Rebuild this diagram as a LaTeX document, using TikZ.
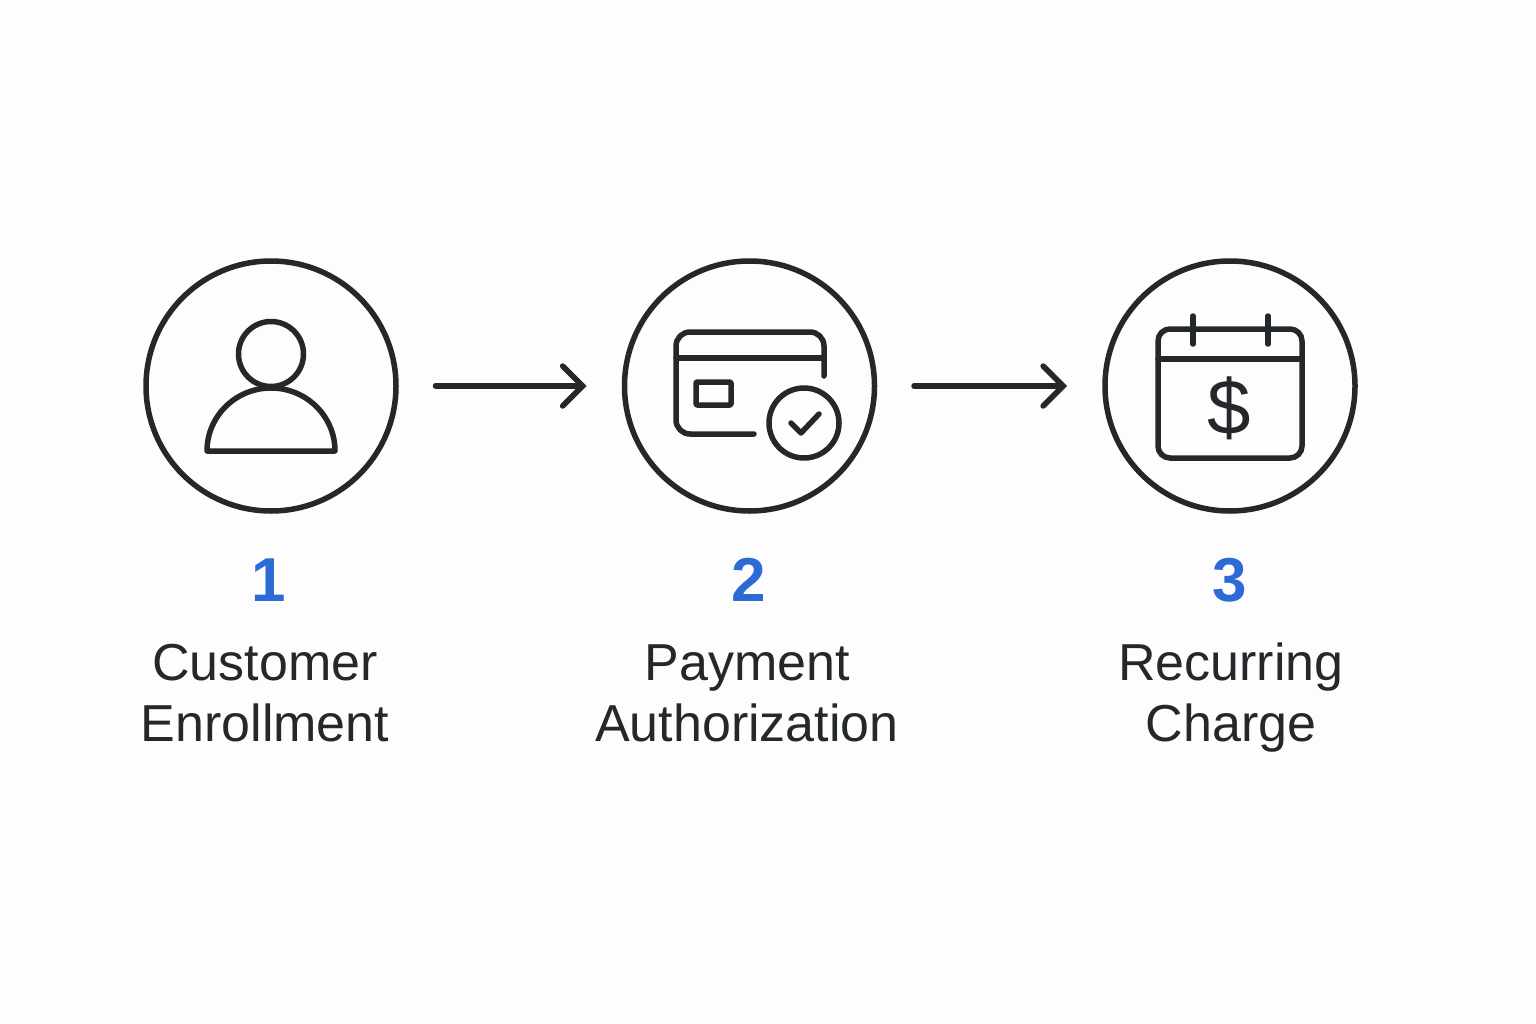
\documentclass[tikz,border=0pt]{standalone}
\usepackage{fontspec}
\setmainfont{Liberation Sans}
\usepackage{xcolor}
\usetikzlibrary{positioning, arrows.meta}
\definecolor{inkdark}{HTML}{25282B}
\definecolor{stepblue}{HTML}{2C6BD6}
\definecolor{paper}{HTML}{FDFDFD}

\begin{document}
\begin{tikzpicture}[x=1pt, y=-1pt]
  \tikzstyle{stepcircle}=[circle, draw=inkdark, line width=5.5pt, minimum size=250pt, inner sep=0pt, outer sep=0pt]
  \tikzstyle{stepnum}=[text=stepblue, font=\fontsize{62}{62}\bfseries\selectfont, inner sep=0pt]
  \tikzstyle{steplabel}=[text=inkdark, font=\fontsize{52}{61}\selectfont, align=center, inner sep=0pt, anchor=south, text depth=0pt]
  \tikzstyle{icon}=[draw=inkdark, line width=5.5pt, line cap=round, line join=round]
  \tikzstyle{flow}=[draw=inkdark, line width=5.5pt, line cap=round, shorten <=39.5pt, shorten >=38pt,
    -{Straight Barb[length=20pt, width=40pt, line cap=round, line join=miter]}]
  \fill[paper] (0,0) rectangle (1536,1024);

  % step circles
  \node (step1) at (271,386) [stepcircle] {};
  \node (step2) at (749.5,386) [stepcircle] {};
  \node (step3) at (1230,386) [stepcircle] {};

  % numbers
  \node (num1) at (269,580) [stepnum] {1};
  \node (num2) at (749,580) [stepnum] {2};
  \node (num3) at (1230,580) [stepnum] {3};

  % labels
  \node (label1) at (265,742) [steplabel] {Customer\\Enrollment};
  \node (label2) at (747,742) [steplabel] {Payment\\Authorization};
  \node (label3) at (1231,742) [steplabel] {Recurring\\Charge};

  % connections
  \draw[flow] (step1) -- (step2);
  \draw[flow] (step2) -- (step3);

  % person icon
  \draw[icon] (271,354) circle (32.5);
  \draw[icon] (207,451) arc[start angle=180, end angle=0, x radius=64, y radius=-63] -- cycle;

  % card icon
  \draw[icon, rounded corners=14pt] (754,434) -| (676,332) -| (824,376);
  \draw[icon] (676,358) -- (824,358);
  \draw[icon, rounded corners=1pt] (696,382) rectangle (731,405);
  \draw[icon] (804,423) circle (35);
  \draw[icon] (791,423) -- (801,433) -- (819,414);

  % calendar icon
  \draw[icon, rounded corners=12pt] (1158,329) rectangle (1302,458);
  \draw[icon] (1158,359) -- (1302,359);
  \draw[icon] (1193,316) -- (1193,344);
  \draw[icon] (1268,316) -- (1268,344);
  \node (dollar) at (1229,408) [text=inkdark, font=\fontsize{78}{78}\selectfont, inner sep=0pt] {\$};
\end{tikzpicture}
\end{document}
